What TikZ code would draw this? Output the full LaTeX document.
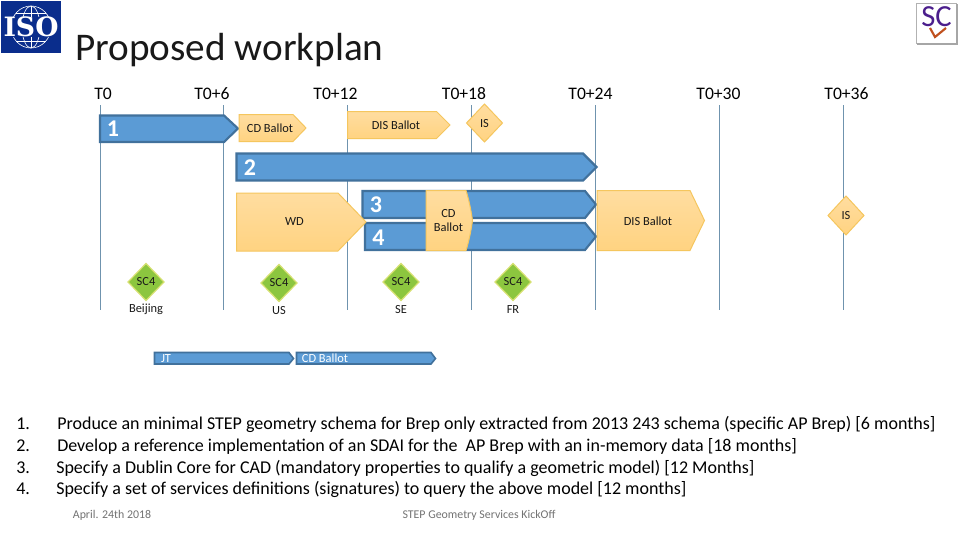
\documentclass[tikz,border=0pt]{standalone}
\usepackage{fontspec}
\setmainfont{Carlito}
\newfontfamily\logofont{DejaVu Serif}
\tikzset{
  x=0.75pt,y=-0.75pt,
  gridline/.style={draw=axisblue,line width=0.75pt},
  tick/.style={font=\fontsize{13.2}{15}\selectfont,inner sep=0pt,anchor=center},
  lbl/.style={font=\fontsize{9.3}{11}\selectfont,inner sep=0pt,anchor=center,align=center,text=black!90},
  num/.style={font=\fontsize{18}{20}\bfseries\selectfont,text=white,inner sep=0pt,anchor=center},
  bluebar/.style={fill=barfill,draw=barline,line width=1.6pt,miter limit=3},
  yellowbox/.style={top color=ytop,bottom color=ybot,draw=yline,line width=0.75pt},
  greenbox/.style={fill=gfill,draw=gline,line width=0.9pt},
  listline/.style={font=\fontsize{13.5}{15}\selectfont,inner sep=0pt,anchor=base west,text=black},
  foot/.style={font=\fontsize{8.9}{10}\selectfont,inner sep=0pt,anchor=base,text=black!55},
}
\definecolor{axisblue}{HTML}{6F93AE}
\definecolor{barfill}{HTML}{5B9BD5}
\definecolor{barline}{HTML}{41719C}
\definecolor{ytop}{HTML}{FFDDA0}
\definecolor{ybot}{HTML}{FFD381}
\definecolor{yline}{HTML}{F5C65E}
\definecolor{gfill}{HTML}{8CC63F}
\definecolor{gline}{HTML}{D6E070}
\definecolor{isoblue}{HTML}{0A2D8C}
\definecolor{scviolet}{HTML}{4B1E8C}
\definecolor{sctick}{HTML}{C0501E}
\begin{document}
\begin{tikzpicture}
\useasboundingbox (0,0) rectangle (960,540);
\fill[white] (0,0) rectangle (960,540);

% logos
\fill[isoblue] (1,1) rectangle (60.5,53);
\begin{scope}[draw=white,line width=0.45pt]
  \draw (31,27) circle[x radius=20,y radius=21];
  \draw (31,27) circle[x radius=9,y radius=21];
  \draw (16,13) -- (46,13) (12,19) -- (50,19) (12,35) -- (50,35) (16,41) -- (46,41);
  \draw (31,6) -- (31,48);
\end{scope}
\fill[isoblue] (3,17) rectangle (59,37);
\node[inner sep=0pt,text=white,font=\logofont\fontsize{20}{20}\bfseries\selectfont] (isologo) at (31,27) {ISO};
\filldraw[fill=white,draw=black!30,line width=0.6pt] (916,3) rectangle (956,43);
\draw[draw=black!35,line width=1pt] (917,44) -- (957,44) -- (957,4);
\node[inner sep=0pt,text=scviolet,font=\fontsize{23}{23}\selectfont] (sclogo) at (936.5,17) {SC};
\draw[draw=sctick,line width=1.6pt] (930,28) -- (935,37) -- (946,28);

% title
\node[inner sep=0pt,anchor=base west,font=\fontsize{29.4}{32}\selectfont,text=black!90] (title) at (75,60) {Proposed workplan};

% timeline labels
\node[tick] (t0) at (103,94) {T0};
\node[tick] (t6) at (212,94) {T0+6};
\node[tick] (t12) at (335.5,94) {T0+12};
\node[tick] (t18) at (464,94) {T0+18};
\node[tick] (t24) at (590.5,94) {T0+24};
\node[tick] (t30) at (718.5,94) {T0+30};
\node[tick] (t36) at (846.5,94) {T0+36};

% vertical grid
\foreach \n/\x in {a/100,b/223.5,c/347.5,d/471.5,e/595.5,f/719,g/843}{
  \coordinate (top\n) at (\x,105);
  \coordinate (bot\n) at (\x,310);
  \draw[gridline] (top\n) -- (bot\n);
}

% blue bars
\draw[bluebar] (100,115.5) -- (224,115.5) -- (238,128.5) -- (224,142) -- (100,142) -- cycle;
\node[num] (n1) at (113,128.5) {1};
\draw[bluebar] (236.5,153.5) -- (583,153.5) -- (596.5,167) -- (583,180.5) -- (236.5,180.5) -- cycle;
\node[num] (n2) at (250,167.5) {2};
\draw[bluebar] (362.5,191) -- (585,191) -- (596,204.5) -- (585,218) -- (362.5,218) -- cycle;
\node[num] (n3) at (376,204.5) {3};
\draw[bluebar] (365,223) -- (585,223) -- (596,236.5) -- (585,250) -- (365,250) -- cycle;
\node[num] (n4) at (378.5,237.5) {4};

% yellow boxes
\draw[yellowbox] (239,114.5) -- (293,114.5) -- (306,128) -- (293,141.5) -- (239,141.5) -- cycle;
\node[lbl] (cd1) at (270,128) {CD Ballot};
\draw[yellowbox] (347.5,111.5) -- (436.5,111.5) -- (450,125) -- (436.5,138.5) -- (347.5,138.5) -- cycle;
\node[lbl] (dis1) at (396,125) {DIS Ballot};
\draw[yellowbox] (484.5,104) -- (502.5,123) -- (484.5,142) -- (466.5,123) -- cycle;
\node[lbl] (is1) at (484.5,123.5) {IS};
\draw[yellowbox] (236.5,193) -- (338,193) -- (366,222) -- (338,251) -- (236.5,251) -- cycle;
\node[lbl] (wd) at (294.5,222) {WD};
\draw[yellowbox] (426,190.5) -- (466,190.5) .. controls (469,200) and (471,210) .. (472.5,220.5) .. controls (471,231) and (469,241) .. (466,250.5) -- (426,250.5) -- cycle;
\node[lbl] (cd2) at (448.5,220.5) {CD\\Ballot};
\draw[yellowbox] (597,190.5) -- (690,190.5) -- (704.5,220.5) -- (690,250.5) -- (597,250.5) -- cycle;
\node[lbl] (dis2) at (648,221) {DIS Ballot};
\draw[yellowbox] (846,196) -- (864,215.5) -- (846,235) -- (828,215.5) -- cycle;
\node[lbl] (is2) at (846,216) {IS};

% green diamonds
\foreach \n/\x/\y/\t in {g1/146/282/Beijing,g2/279/283/US,g3/401/282/SE,g4/513/282/FR}{
  \draw[greenbox] (\x,\y-18.5) -- (\x+18,\y) -- (\x,\y+18.5) -- (\x-18,\y) -- cycle;
  \node[lbl] (\n) at (\x,\y) {SC4};
}
\node[lbl] (beijing) at (146,309.5) {Beijing};
\node[lbl] (us) at (279,311) {US};
\node[lbl] (se) at (401,309.5) {SE};
\node[lbl] (fr) at (513,309.5) {FR};

% small bars
\draw[bluebar,line width=1.2pt] (154.5,352.5) -- (289,352.5) -- (293.5,358.5) -- (289,364) -- (154.5,364) -- cycle;
\node[lbl,text=white] (jt) at (166,358.5) {JT};
\draw[bluebar,line width=1.2pt] (296.5,352.5) -- (431,352.5) -- (435.5,358.5) -- (431,364) -- (296.5,364) -- cycle;
\node[lbl,text=white] (cdb) at (325,358.5) {CD Ballot};

% list
\foreach \n/\y in {1/429,2/451,3/473,4/494}{
  \node[listline] (num\n) at (16,\y) {\n.};
}
\node[listline] (l1) at (57,429) {Produce an minimal STEP geometry schema for Brep only extracted from 2013 243 schema (specific AP Brep) [6 months]};
\node[listline] (l2) at (57,451) {Develop a reference implementation of an SDAI for the\ \ AP Brep with an in-memory data [18 months]};
\node[listline] (l3) at (56,473) {Specify a Dublin Core for CAD (mandatory properties to qualify a geometric model) [12 Months]};
\node[listline] (l4) at (56,494) {Specify a set of services definitions (signatures) to query the above model [12 months]};

% footer
\node[foot] (f1) at (112,518) {April. 24th 2018};
\node[foot] (f2) at (479,518) {STEP Geometry Services KickOff};
\end{tikzpicture}
\end{document}
